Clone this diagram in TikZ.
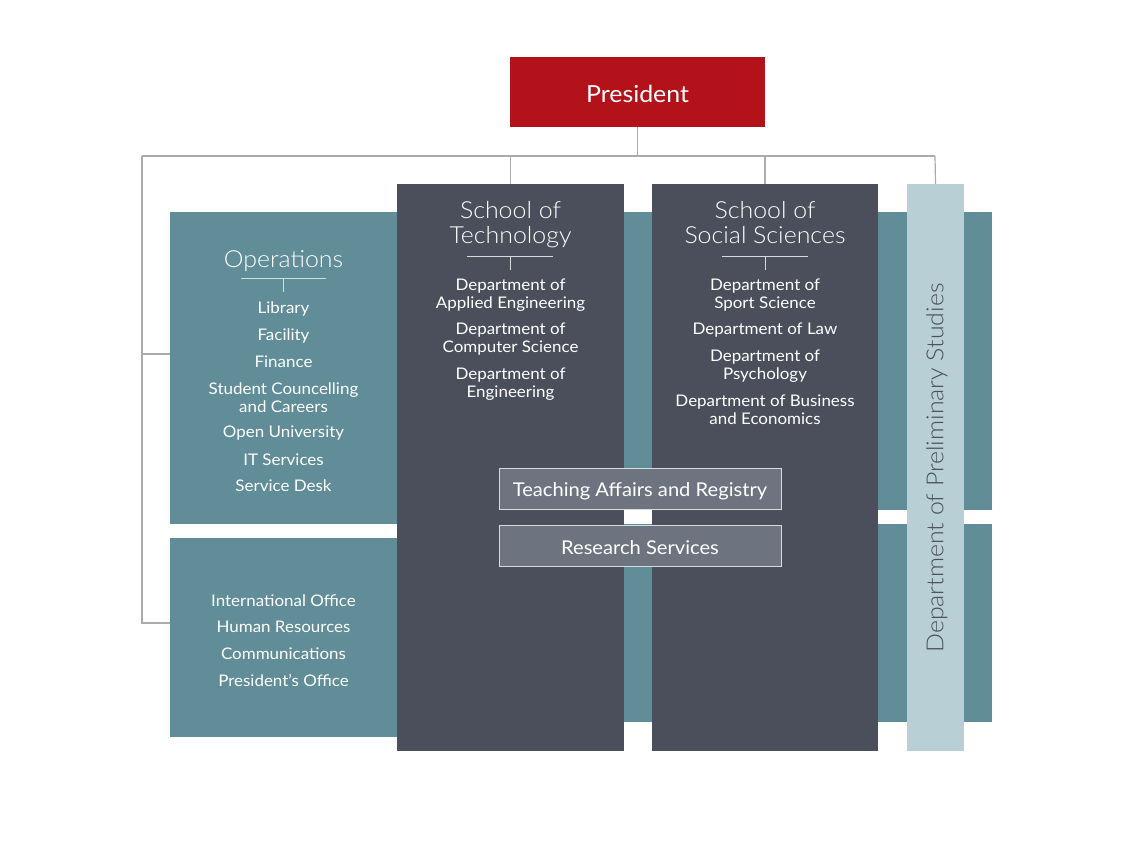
\documentclass[tikz,border=0pt]{standalone}
\usepackage{fontspec}
\setmainfont{Lato}[FakeStretch=1.06]
\newfontfamily\lightfont{Lato Light}[FakeStretch=1.06]
\definecolor{presred}{HTML}{B3121A}
\definecolor{teal}{HTML}{608D97}
\definecolor{darkcol}{HTML}{4A4F5B}
\definecolor{lightcol}{HTML}{B7CFD5}
\definecolor{boxgray}{HTML}{6E747F}
\definecolor{conngray}{HTML}{ABABAB}
\definecolor{rulecol}{HTML}{D4DCDE}
\begin{document}
\begin{tikzpicture}[x=1pt,y=-1pt,
  conn/.style={draw=conngray,line width=1.2pt},
  tealbg/.style={fill=teal},
  column/.style={fill=darkcol,inner sep=0pt,minimum width=227,minimum height=567},
  titletxt/.style={text=white,font=\lightfont\fontsize{23.5}{25}\selectfont,align=center,inner sep=0pt},
  itemtxt/.style={text=white,font=\fontsize{16}{18}\selectfont,align=center,inner sep=0pt},
  ruleline/.style={draw=rulecol,line width=0.9pt},
  midbox/.style={fill=boxgray,draw=rulecol,line width=1pt,minimum width=282,minimum height=41,inner sep=0pt},
  midtxt/.style={text=white,font=\fontsize{19}{20}\selectfont,inner sep=0pt}
]
\useasboundingbox (0,0) rectangle (1134,850);
% teal backgrounds
\fill[tealbg] (170,212) rectangle (397,524);
\fill[tealbg] (397,212) rectangle (992,510);
\fill[tealbg] (397,524) rectangle (992,722);
\fill[tealbg] (170,538) rectangle (397,737);
% columns
\node[column] (tech) at (510.5,467.5) {};
\node[column,minimum width=226] (soc) at (765,467.5) {};
\node[fill=lightcol,inner sep=0pt,minimum width=57,minimum height=567] (prelim) at (935.5,467.5) {};
\node[rotate=90,text=darkcol,font=\lightfont\fontsize{23.5}{25}\selectfont,inner sep=0pt] (prelimtxt) at (937,468) {Department of Preliminary Studies};
% president
\node[fill=presred,minimum width=255,minimum height=70,inner sep=0pt] (pres) at (637.5,92) {};
\node[text=white,font=\fontsize{23.5}{25}\selectfont,inner sep=0pt] (prest) at (637.5,94) {President};
% connectors
\coordinate (busL) at (142,156);
\coordinate (busR) at (935,156);
\coordinate (opsL) at (142,354);
\coordinate (opsE) at (170,354);
\coordinate (lowL) at (142,623);
\coordinate (lowE) at (170,623);
\draw[conn] (pres.south) -- (pres.south |- busL);
\draw[conn] (busL) -- (busR);
\draw[conn] (tech.north |- busL) -- (tech.north);
\draw[conn] (soc.north |- busL) -- (soc.north);
\draw[conn] (busR) -- (prelim.north);
\draw[conn] (busL) -- (lowL) -- (lowE);
\draw[conn] (opsL) -- (opsE);
% operations
\node[titletxt] (opst) at (283.5,261) {Operations};
\draw[ruleline] (241,278) -- (326,278);
\draw[ruleline] (283.5,278) -- (283.5,292);
\node[itemtxt] (o1) at (283.5,309) {Library};
\node[itemtxt] (o2) at (283.5,336) {Facility};
\node[itemtxt] (o3) at (283.5,362) {Finance};
\node[itemtxt] (o4) at (283.5,398) {Student Councelling\\and Careers};
\node[itemtxt] (o5) at (283.5,433) {Open University};
\node[itemtxt] (o6) at (283.5,460) {IT Services};
\node[itemtxt] (o7) at (283.5,486) {Service Desk};
% lower left
\node[itemtxt] (l1) at (283.5,601) {International Office};
\node[itemtxt] (l2) at (283.5,627) {Human Resources};
\node[itemtxt] (l3) at (283.5,654) {Communications};
\node[itemtxt] (l4) at (283.5,680) {President's Office};
% technology
\node[titletxt] (techt) at (510.5,224.5) {School of\\Technology};
\draw[ruleline] (467,256) -- (553,256);
\draw[ruleline] (510.5,256) -- (510.5,270);
\node[itemtxt] (t1) at (510.5,295) {Department of\\Applied Engineering};
\node[itemtxt] (t2) at (510.5,339) {Department of\\Computer Science};
\node[itemtxt] (t3) at (510.5,384) {Department of\\Engineering};
% social sciences
\node[titletxt] (soct) at (765,222.5) {School of\\Social Sciences};
\draw[ruleline] (722,256) -- (808,256);
\draw[ruleline] (765,256) -- (765,270);
\node[itemtxt] (s1) at (765,295) {Department of\\Sport Science};
\node[itemtxt] (s2) at (765,330) {Department of Law};
\node[itemtxt] (s3) at (765,366) {Department of\\Psychology};
\node[itemtxt] (s4) at (765,410) {Department of Business\\and Economics};
% middle boxes
\node[midbox] (teach) at (640,488.5) {};
\node[midtxt] (teacht) at (640,491) {Teaching Affairs and Registry};
\node[midbox] (res) at (640,545.5) {};
\node[midtxt] (rest) at (640,548) {Research Services};
\end{tikzpicture}
\end{document}
